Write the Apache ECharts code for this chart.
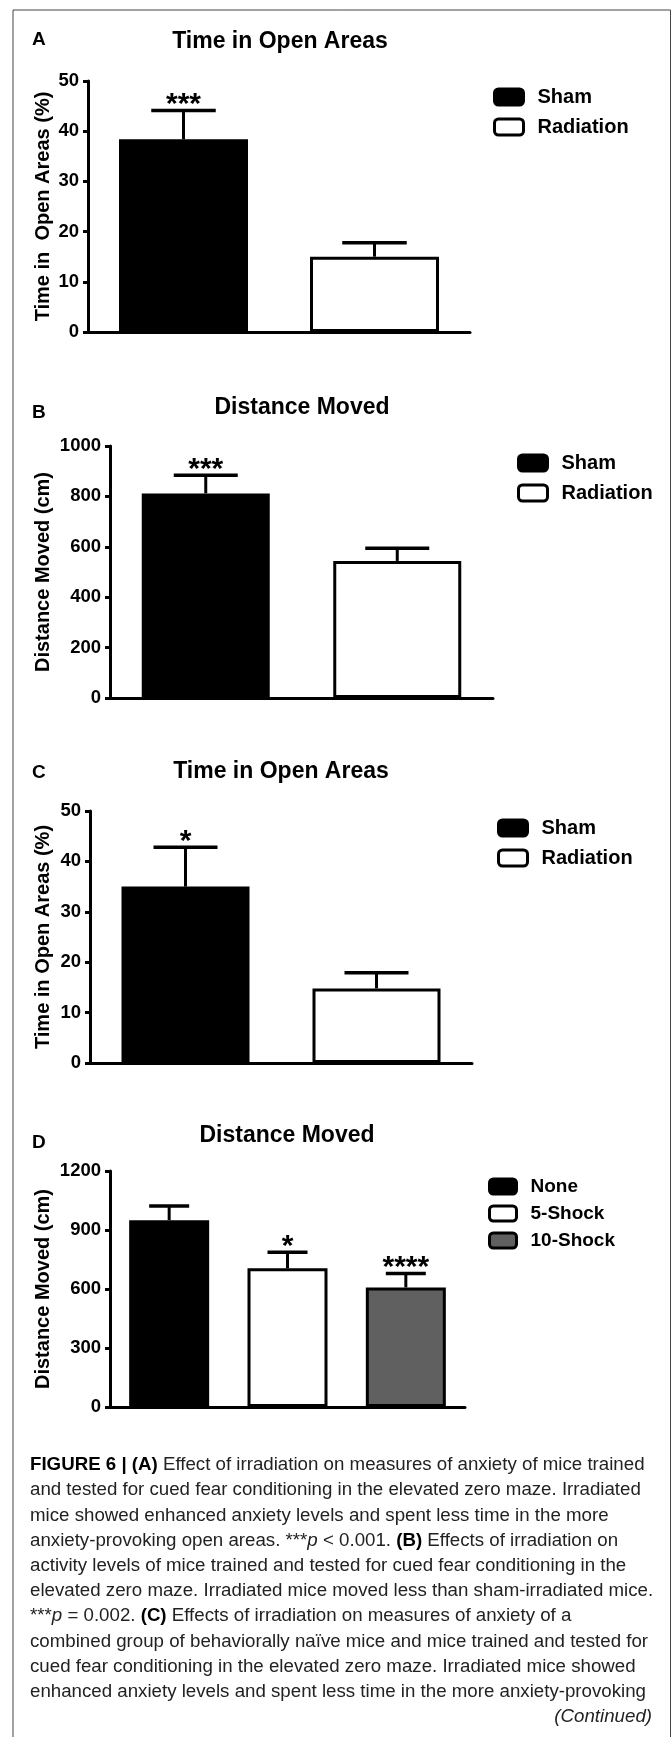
<!DOCTYPE html>
<html>
<head>
<meta charset="utf-8">
<title>Figure 6</title>
<script src="https://cdn.jsdelivr.net/npm/echarts@6/dist/echarts.min.js"></script>
<style>
html,body{margin:0;padding:0;background:#fff;}
#chart{width:672px;height:1737px;}
</style>
</head>
<body>
<div id="chart"></div>
<script>
// A - time in open areas (fear conditioned mice)
var catsA = ['Sham', 'Radiation'];
var meanA = [38.4, 15.0];
var upperA = [44.1, 17.8];
var starsA = ['***', ''];
var ticksA = [0, 50, 10];

// B - distance moved
var catsB = ['Sham', 'Radiation'];
var meanB = [812, 544];
var upperB = [884, 594];
var starsB = ['***', ''];
var ticksB = [0, 1000, 200];

// C - time in open areas (combined group)
var catsC = ['Sham', 'Radiation'];
var meanC = [35.0, 14.8];
var upperC = [42.8, 17.9];
var starsC = ['*', ''];
var ticksC = [0, 50, 10];

// D - distance moved by shock group
var catsD = ['None', '5-Shock', '10-Shock'];
var meanD = [950, 705, 608];
var upperD = [1022, 787, 679];
var starsD = ['', '*', '****'];
var ticksD = [0, 1200, 300];

var captionLines = [
  '{b|FIGURE 6 | (A)} Effect of irradiation on measures of anxiety of mice trained',
  'and tested for cued fear conditioning in the elevated zero maze. Irradiated',
  'mice showed enhanced anxiety levels and spent less time in the more',
  'anxiety-provoking open areas. ***{i|p} < 0.001. {b|(B)} Effects of irradiation on',
  'activity levels of mice trained and tested for cued fear conditioning in the',
  'elevated zero maze. Irradiated mice moved less than sham-irradiated mice.',
  '***{i|p} = 0.002. {b|(C)} Effects of irradiation on measures of anxiety of a',
  'combined group of behaviorally na\u00efve mice and mice trained and tested for',
  'cued fear conditioning in the elevated zero maze. Irradiated mice showed',
  'enhanced anxiety levels and spent less time in the more anxiety-provoking'
];

var FONT = '"Liberation Sans", Arial, Helvetica, sans-serif';
var fillOf = {'Sham': '#000', 'Radiation': '#fff', 'None': '#000', '5-Shock': '#fff', '10-Shock': '#606060'};

var panels = [
  {cats: catsA, mean: meanA, upper: upperA, stars: starsA, ticks: ticksA, name: 'Time in  Open Areas (%)',
   grid: {left: 88, top: 81, width: 382, height: 251}, barW: 129, nameGap: 35, legend: {left: 493, top: 87}},
  {cats: catsB, mean: meanB, upper: upperB, stars: starsB, ticks: ticksB, name: 'Distance Moved (cm)',
   grid: {left: 110, top: 446, width: 383, height: 252}, barW: 128, nameGap: 57, legend: {left: 517, top: 453}},
  {cats: catsC, mean: meanC, upper: upperC, stars: starsC, ticks: ticksC, name: 'Time in Open Areas (%)',
   grid: {left: 90, top: 811, width: 382, height: 252}, barW: 128, nameGap: 37, legend: {left: 497, top: 818}},
  {cats: catsD, mean: meanD, upper: upperD, stars: starsD, ticks: ticksD, name: 'Distance Moved (cm)',
   grid: {left: 110, top: 1171, width: 355, height: 236}, barW: 80, nameGap: 57, legend: {left: 488, top: 1177}}
];

function errRender(stars, capW) {
  return function (params, api) {
    var x = api.value(0);
    var p0 = api.coord([x, api.value(1)]);
    var p1 = api.coord([x, api.value(2)]);
    var kids = [
      {type: 'line', shape: {x1: p0[0], y1: p0[1], x2: p1[0], y2: p1[1]}, style: {stroke: '#000', lineWidth: 3}},
      {type: 'line', shape: {x1: p1[0] - capW / 2, y1: p1[1], x2: p1[0] + capW / 2, y2: p1[1]}, style: {stroke: '#000', lineWidth: 3.5}}
    ];
    var s = stars[params.dataIndex];
    if (s) {
      kids.push({type: 'text', style: {text: s, x: p1[0], y: p1[1] - 5.5, fill: '#000',
        font: 'bold 30px ' + FONT, textAlign: 'center', textVerticalAlign: 'middle'}});
    }
    return {type: 'group', children: kids};
  };
}

var grids = [], xAxes = [], yAxes = [], series = [], legends = [];
panels.forEach(function (p, k) {
  grids.push(p.grid);
  xAxes.push({type: 'category', gridIndex: k, data: p.cats,
    axisLine: {lineStyle: {color: '#000', width: 3}}, axisTick: {show: false}, axisLabel: {show: false}});
  yAxes.push({type: 'value', gridIndex: k, min: p.ticks[0], max: p.ticks[1], interval: p.ticks[2],
    axisLine: {show: true, lineStyle: {color: '#000', width: 3}},
    axisTick: {show: true, length: 5, lineStyle: {color: '#000', width: 3}},
    axisLabel: {color: '#000', fontSize: 18.5, fontWeight: 'bold', fontFamily: FONT, margin: 9,
      formatter: function (v) { return String(v); }},
    splitLine: {show: false},
    name: p.name, nameLocation: 'middle', nameGap: p.nameGap, nameMoveOverlap: false,
    nameTextStyle: {color: '#000', fontSize: 20, fontWeight: 'bold', fontFamily: FONT}});
  p.cats.forEach(function (c, i) {
    series.push({type: 'bar', name: c, xAxisIndex: k, yAxisIndex: k, barWidth: p.barW, barGap: '-100%',
      data: p.mean.map(function (v, j) { return j === i ? v : '-'; }),
      itemStyle: {color: fillOf[c], borderColor: '#000', borderWidth: 3}});
  });
  series.push({type: 'custom', xAxisIndex: k, yAxisIndex: k, z: 5,
    renderItem: errRender(p.stars, p.barW / 2),
    data: p.upper.map(function (u, i) { return [i, p.mean[i], u]; })});
  var big = k < 3;
  legends.push({left: p.legend.left, top: p.legend.top, padding: 0, orient: 'vertical', selectedMode: false,
    icon: 'roundRect', itemWidth: big ? 29 : 27, itemHeight: big ? 16 : 15, itemGap: big ? 10 : 8,
    textStyle: {color: '#000', fontSize: big ? 20 : 19, fontWeight: 'bold', fontFamily: FONT, padding: [0, 0, 0, 9]},
    data: p.cats.map(function (c) {
      return {name: c, itemStyle: {color: fillOf[c], borderColor: '#000', borderWidth: 3}};
    })});
});

var graphics = [
  {type: 'rect', shape: {x: 13, y: 10, width: 657.5, height: 1740}, style: {fill: 'none', stroke: '#444', lineWidth: 1}}
];
var heads = [
  ['A', 'Time in Open Areas', 40, 280, 42],
  ['B', 'Distance Moved', 413, 302, 408],
  ['C', 'Time in Open Areas', 773, 281, 772],
  ['D', 'Distance Moved', 1143, 287, 1136]
];
heads.forEach(function (h) {
  graphics.push({type: 'text', style: {text: h[0], x: 32, y: h[2], fill: '#000', font: 'bold 19px ' + FONT,
    textAlign: 'left', textVerticalAlign: 'middle'}});
  graphics.push({type: 'text', style: {text: h[1], x: h[3], y: h[4], fill: '#000', font: 'bold 23px ' + FONT,
    textAlign: 'center', textVerticalAlign: 'middle'}});
});
captionLines.forEach(function (t, i) {
  graphics.push({type: 'text', style: {text: t, x: 30, y: 1465 + i * 25.2, fill: '#222',
    fontSize: 18.7, fontFamily: FONT, textAlign: 'left', textVerticalAlign: 'middle',
    rich: {
      b: {fontSize: 18.7, fontFamily: FONT, fontWeight: 'bold', fill: '#000'},
      i: {fontSize: 18.7, fontFamily: FONT, fontStyle: 'italic', fill: '#222'}
    }}});
});
graphics.push({type: 'text', style: {text: '(Continued)', x: 652, y: 1717, fill: '#222',
  font: 'italic 18.7px ' + FONT, textAlign: 'right', textVerticalAlign: 'middle'}});

var chart = echarts.init(document.getElementById('chart'), null, {renderer: 'canvas'});
chart.setOption({
  animation: false,
  backgroundColor: '#fff',
  grid: grids,
  xAxis: xAxes,
  yAxis: yAxes,
  legend: legends,
  series: series,
  graphic: graphics
});
</script>
</body>
</html>
